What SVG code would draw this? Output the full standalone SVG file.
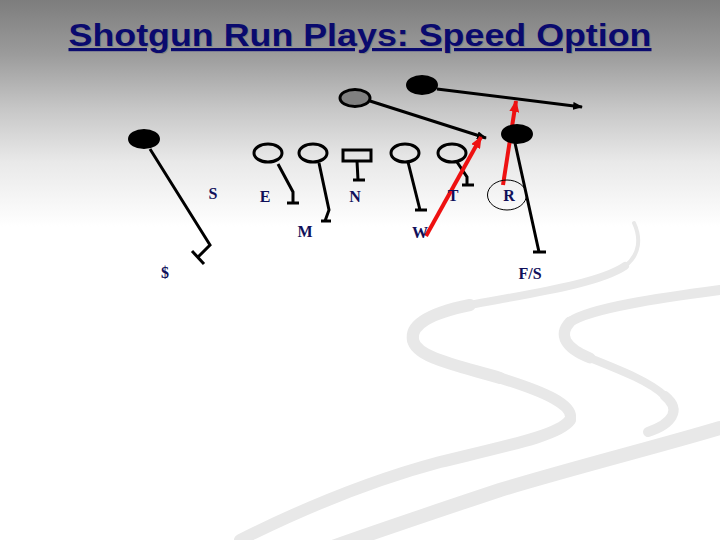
<svg xmlns="http://www.w3.org/2000/svg" width="720" height="540" viewBox="0 0 720 540">
<defs>
<linearGradient id="bg" x1="0" y1="0" x2="0" y2="1">
<stop offset="0" stop-color="#7d7d7d"/>
<stop offset="0.1" stop-color="#9b9b9b"/>
<stop offset="0.2" stop-color="#c6c6c6"/>
<stop offset="0.3" stop-color="#e9e9e9"/>
<stop offset="0.42" stop-color="#ffffff"/>
</linearGradient>
<linearGradient id="g3" gradientUnits="userSpaceOnUse" x1="720" y1="425" x2="330" y2="545">
<stop offset="0" stop-color="#d2d2d2"/>
<stop offset="0.5" stop-color="#e4e4e4"/>
<stop offset="1" stop-color="#fbfbfb"/>
</linearGradient>
<linearGradient id="g1" gradientUnits="userSpaceOnUse" x1="570" y1="420" x2="240" y2="540">
<stop offset="0" stop-color="#e2e2e2"/>
<stop offset="1" stop-color="#fafafa"/>
</linearGradient>
<marker id="ab" viewBox="0 0 10 8" refX="9" refY="4" markerWidth="10" markerHeight="8" markerUnits="userSpaceOnUse" orient="auto"><path d="M0,0 L10,4 L0,8 Z" fill="#000"/></marker>
<marker id="ar" viewBox="0 0 12 10" refX="11" refY="5" markerWidth="12" markerHeight="10" markerUnits="userSpaceOnUse" orient="auto"><path d="M0,0 L12,5 L0,10 Z" fill="#ee1111"/></marker>
</defs>
<style>
.pl{fill:none;stroke:#000;stroke-width:3}
.df{fill:#000;stroke:#000;stroke-width:2}
.rt{fill:none;stroke:#000;stroke-width:3;stroke-linejoin:miter}
.ar{fill:none;stroke:#000;stroke-width:3}
.red{fill:none;stroke:#ee1111;stroke-width:4}
.lb{font-family:"Liberation Serif",serif;font-weight:bold;font-size:16px;fill:#10105a;text-anchor:middle}
.sw{fill:none;stroke-linecap:round;stroke:#e8e8e8}
</style>
<rect x="0" y="0" width="720" height="540" fill="url(#bg)"/>
<g id="swoosh">
<path class="sw" d="M634,223 C641,238 640,255 625,266" stroke-width="4" stroke="#eeeeee"/>
<path class="sw" d="M625,266 C600,283 540,292 470,305" stroke-width="8" stroke="#ededed"/>
<path class="sw" d="M470,305 C430,313 410,325 413,340" stroke-width="12"/>
<path class="sw" d="M413,340 C416,358 460,366 500,378" stroke-width="12" stroke="#e4e4e4"/>
<path class="sw" d="M500,378 C545,392 575,405 570,420" stroke-width="11" stroke="#e4e4e4"/>
<path class="sw" d="M570,420 C560,435 510,445 440,462 C380,478 310,505 240,540" stroke-width="12" stroke="url(#g1)"/>
<path class="sw" d="M720,290 C660,298 590,308 570,322" stroke-width="10" stroke="#ececec"/>
<path class="sw" d="M570,322 C558,335 565,348 590,358" stroke-width="11" stroke="#e8e8e8"/>
<path class="sw" d="M590,358 C625,372 650,382 665,396" stroke-width="8" stroke="#ececec"/>
<path class="sw" d="M665,396 C682,410 672,424 648,432" stroke-width="10" stroke="#e4e4e4"/>
<path class="sw" d="M720,428 C660,446 580,466 500,490 C440,510 380,530 330,548" stroke-width="14" stroke="url(#g3)"/>
</g>
<text x="361" y="47" font-family="'Liberation Sans',Arial,sans-serif" font-weight="bold" font-size="32" fill="#6e6e6e" opacity="0.5" text-anchor="middle" textLength="583" lengthAdjust="spacingAndGlyphs">Shotgun Run Plays: Speed Option</text>
<text x="360" y="46" font-family="'Liberation Sans',Arial,sans-serif" font-weight="bold" font-size="32" fill="#0a0a6e" text-anchor="middle" text-decoration="underline" textLength="583" lengthAdjust="spacingAndGlyphs">Shotgun Run Plays: Speed Option</text>
<g id="connectors">
<path class="rt" d="M150,149 L210,245 L198,257"/>
<path class="rt" d="M192,251 L204,264"/>
<path class="rt" d="M278,164 L293,192 L293,203 M287,203 L299,203"/>
<path class="rt" d="M319,163 L329,210 L325,221 M321,221 L331,221"/>
<path class="rt" d="M357,161 L358,180 M353,180 L365,180"/>
<path class="rt" d="M408,162 L420,210 M415,210 L427,210"/>
<path class="rt" d="M457,162 L467,177 L467,185 M462,185 L474,185"/>
<path class="rt" d="M515,143 L539,252 M533,252 L546,252"/>
<path class="ar" d="M370,101 L486,138" marker-end="url(#ab)"/>
<path class="ar" d="M437,89 L582,107" marker-end="url(#ab)"/>
<path class="red" d="M426,236 L481,137" marker-end="url(#ar)"/>
<path class="red" d="M503,185 L516,101" marker-end="url(#ar)"/>
</g>
<g id="dl"><ellipse class="df" cx="144" cy="139" rx="15" ry="9"/></g>
<g id="qb"><ellipse cx="355" cy="98" rx="15" ry="8.5" fill="#808080" stroke="#000" stroke-width="3"/></g>
<g id="rb"><ellipse class="df" cx="422" cy="85" rx="15" ry="9"/></g>
<g id="dr"><ellipse class="df" cx="517" cy="134" rx="15" ry="9"/></g>
<g id="lt"><ellipse class="pl" cx="268" cy="153" rx="14" ry="9"/></g>
<g id="lg"><ellipse class="pl" cx="313" cy="153" rx="14" ry="9"/></g>
<g id="c"><rect class="pl" x="343" y="150" width="28" height="11"/></g>
<g id="rg"><ellipse class="pl" cx="405" cy="153" rx="14" ry="9"/></g>
<g id="rtk"><ellipse class="pl" cx="452" cy="153" rx="14" ry="9"/></g>
<g id="R"><ellipse cx="507" cy="195" rx="19.5" ry="15" fill="none" stroke="#000" stroke-width="1"/><text class="lb" x="509" y="201">R</text></g>
<g id="S"><text class="lb" x="213" y="199">S</text></g>
<g id="E"><text class="lb" x="265" y="202">E</text></g>
<g id="M"><text class="lb" x="305" y="237">M</text></g>
<g id="N"><text class="lb" x="355" y="202">N</text></g>
<g id="T"><text class="lb" x="453" y="201">T</text></g>
<g id="W"><text class="lb" x="420" y="238">W</text></g>
<g id="dollar"><text class="lb" x="165" y="278">$</text></g>
<g id="FS"><text class="lb" x="530" y="279">F/S</text></g>
</svg>
